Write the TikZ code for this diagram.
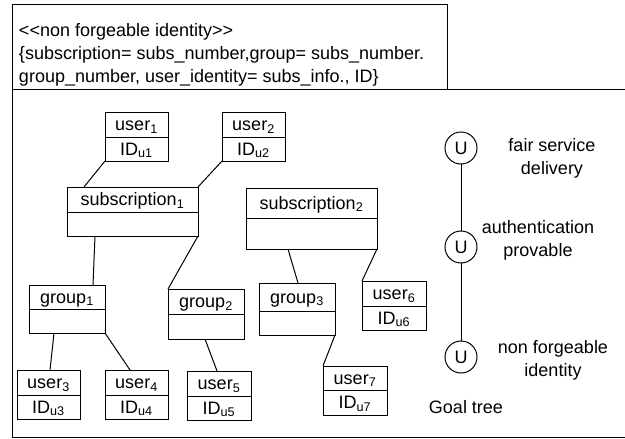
\documentclass[tikz,border=0pt]{standalone}
\usepackage{fontspec}
\setmainfont{Liberation Sans}
\begin{document}
\begin{tikzpicture}[x=1pt,y=-1pt,line width=1pt,
  every node/.style={font=\fontsize{18}{23}\selectfont,inner sep=0pt,outer sep=0pt},
  boxnode/.style={draw,anchor=north west},
  lbl/.style={text height=16pt,text depth=4pt},
  goal/.style={draw,circle,minimum size=32pt,lbl},
  conn/.style={line width=1pt}]
\useasboundingbox (0,0) rectangle (625,439);
\newcommand\clsbox[8]{%
  \node[boxnode,minimum width={#4-#2},minimum height={#5-#3}] (#1) at (#2,#3) {};
  \draw (#2,#6) -- (#4,#6);
  \node[lbl] (#1top) at ({(#2+#4)/2},{(#3+#6)/2}) {#7};
  \node[lbl] (#1bot) at ({(#2+#4)/2},{(#6+#5)/2}) {#8};
}
% frames
\node[draw,anchor=north west,minimum width=435,minimum height=85] (stereo) at (12,4) {};
\node[anchor=north west,align=left] (stereotext) at (19,23)
  {<{}<non forgeable identity>{}>\\
   \{subscription= subs\_number,group= subs\_number.\\
   group\_number, user\_identity= subs\_info., ID\}};
\coordinate (frTL) at (12,89);
\coordinate (frTR) at (625,89);
\coordinate (frBL) at (12,437);
\coordinate (frBR) at (625,437);
\draw (frTR) -- (frTL) -- (frBL) -- (frBR);
% class boxes
\clsbox{u1}{105}{112}{168}{161}{137}{user\textsubscript{1}}{ID\textsubscript{u1}}
\clsbox{u2}{222}{112}{285}{161}{137}{user\textsubscript{2}}{ID\textsubscript{u2}}
\clsbox{s1}{67}{187}{198}{236}{212}{subscription\textsubscript{1}}{}
\clsbox{s2}{246}{188}{377}{249}{218}{subscription\textsubscript{2}}{}
\clsbox{g1}{29}{285}{105}{333}{309}{group\textsubscript{1}}{}
\clsbox{g2}{168}{289}{244}{339}{314}{group\textsubscript{2}}{}
\clsbox{g3}{259}{283}{335}{335}{311}{group\textsubscript{3}}{}
\clsbox{u3}{17}{370}{80}{419}{395}{user\textsubscript{3}}{ID\textsubscript{u3}}
\clsbox{u4}{105}{370}{168}{419}{395}{user\textsubscript{4}}{ID\textsubscript{u4}}
\clsbox{u5}{187}{371}{251}{420}{396}{user\textsubscript{5}}{ID\textsubscript{u5}}
\clsbox{u6}{362}{281}{426}{330}{306}{user\textsubscript{6}}{ID\textsubscript{u6}}
\clsbox{u7}{323}{366}{387}{415}{390}{user\textsubscript{7}}{ID\textsubscript{u7}}
% connectors
\draw[conn] (u1.south west) -- ([xshift=17pt]s1.north west);
\draw[conn] (u2.south west) -- (s1.north east);
\draw[conn] ([xshift=28pt]s1.south west) -- ([xshift=64pt]g1.north west);
\draw[conn] (s1.south east) -- (g2.north west);
\draw[conn] ([xshift=42pt]s2.south west) -- ([xshift=39pt]g3.north west);
\draw[conn] (s2.south east) -- (u6.north west);
\draw[conn] ([xshift=25pt]g1.south west) -- ([xshift=33pt]u3.north west);
\draw[conn] (g1.south east) -- ([xshift=25pt]u4.north west);
\draw[conn] ([xshift=37pt]g2.south west) -- ([xshift=30pt]u5.north west);
\draw[conn] (g3.south east) -- (u7.north west);
% goal tree
\node[goal] (c1) at (461,148) {U};
\node[goal] (c2) at (461,247) {U};
\node[goal] (c3) at (461,357) {U};
\draw[conn] (c1) -- (c2);
\draw[conn] (c2) -- (c3);
\node[align=center] (t1) at (552,158) {fair service\\delivery};
\node[align=center] (t2) at (538,240) {authentication\\provable};
\node[align=center] (t3) at (553,360) {non forgeable\\identity};
\node[lbl] (gt) at (466,407) {Goal tree};
\end{tikzpicture}
\end{document}
